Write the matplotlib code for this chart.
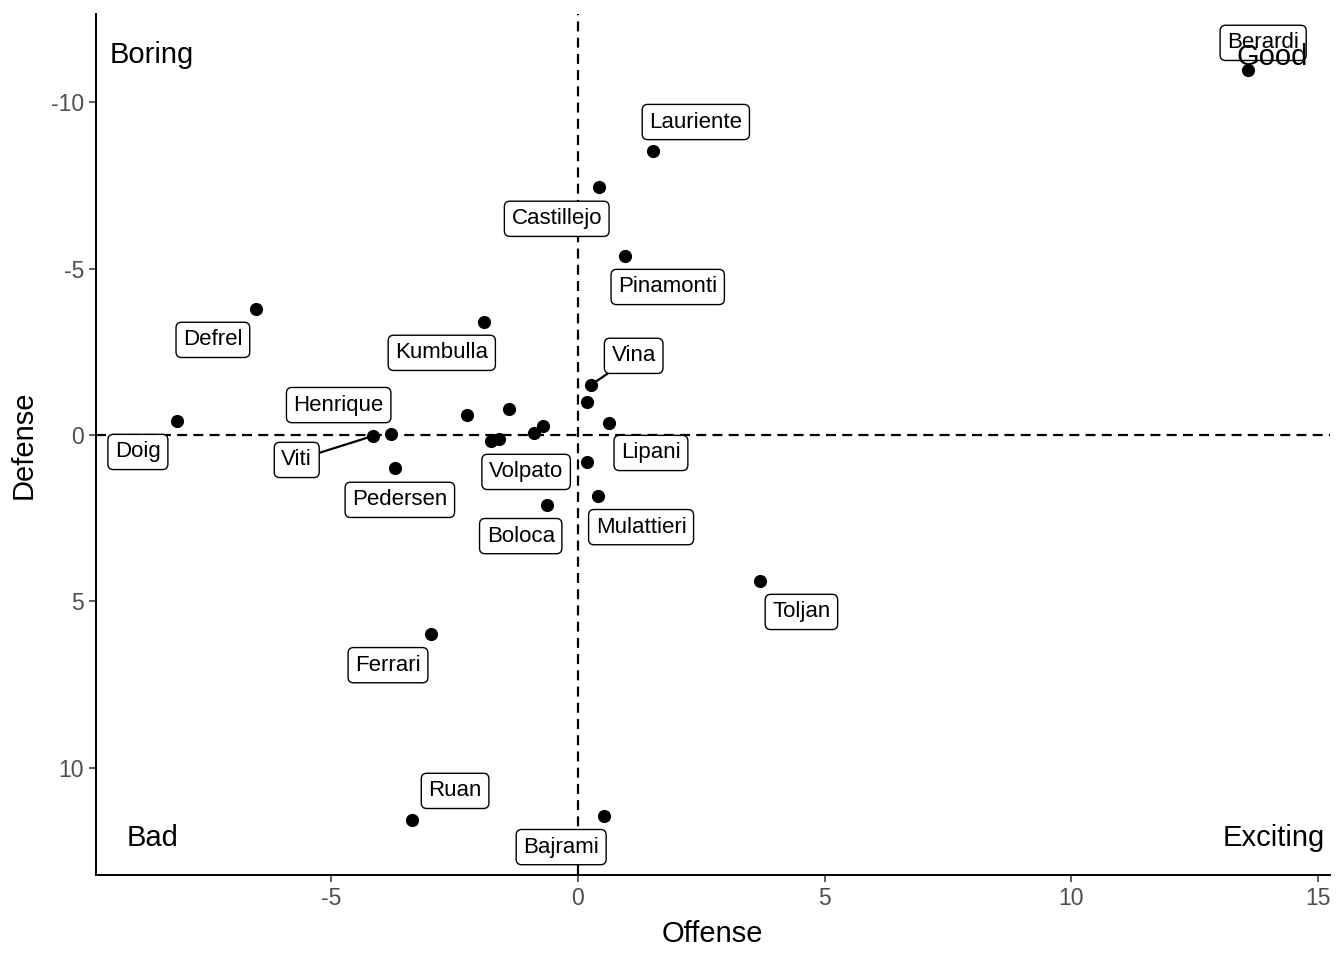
import matplotlib
matplotlib.use('Agg')
import matplotlib.pyplot as plt
from matplotlib import rcParams

rcParams['font.family'] = ['Liberation Sans', 'DejaVu Sans']
rcParams['axes.unicode_minus'] = False

# player values (offense, defense); empty name = unlabelled point
players = ['Berardi', 'Lauriente', 'Castillejo', 'Pinamonti', 'Defrel', 'Kumbulla',
           'Vina', '', 'Lipani', 'Doig', '', '', '', '', '', '',
           'Viti', 'Henrique', 'Pedersen', 'Volpato', 'Mulattieri', 'Boloca',
           'Toljan', 'Ferrari', 'Ruan', 'Bajrami']
offense = [13.58, 1.52, 0.43, 0.95, -6.53, -1.91,
           0.26, 0.18, 0.63, -8.13, -2.25, -1.40, -0.71, -0.89, -1.60, -1.76,
           -4.16, -3.79, -3.71, 0.18, 0.41, -0.63,
           3.69, -2.98, -3.37, 0.53]
defense = [-10.98, -8.54, -7.46, -5.38, -3.79, -3.40,
           -1.50, -0.99, -0.36, -0.42, -0.60, -0.78, -0.27, -0.06, 0.12, 0.18,
           0.03, -0.03, 0.99, 0.81, 1.83, 2.11,
           4.39, 5.98, 11.58, 11.46]

# where the repelled labels ended up (data coords) and which ones get a segment
label_pos = {
    'Berardi': (13.89, -11.79), 'Lauriente': (2.39, -9.41), 'Castillejo': (-0.43, -6.50),
    'Pinamonti': (1.82, -4.45), 'Defrel': (-7.40, -2.86), 'Kumbulla': (-2.76, -2.47),
    'Vina': (1.13, -2.38), 'Henrique': (-4.85, -0.90), 'Doig': (-8.92, 0.51),
    'Viti': (-5.70, 0.75), 'Lipani': (1.48, 0.54), 'Volpato': (-1.05, 1.11),
    'Pedersen': (-3.61, 1.95), 'Boloca': (-1.16, 3.04), 'Mulattieri': (1.28, 2.77),
    'Toljan': (4.53, 5.32), 'Ferrari': (-3.85, 6.92), 'Ruan': (-2.49, 10.70),
    'Bajrami': (-0.34, 12.39),
}
with_segment = {'Viti', 'Vina'}

quadrants = [('Boring', 0.011, 0.952, 'left'), ('Good', 0.982, 0.950, 'right'),
             ('Bad', 0.025, 0.043, 'left'), ('Exciting', 0.996, 0.043, 'right')]

fig = plt.figure(figsize=(13.44, 9.6), dpi=100)
ax = fig.add_axes([0.0714, 0.0885, 0.918, 0.897])

ax.axhline(0, color='black', linestyle=(0, (4.5, 2.8)), linewidth=1.6, zorder=1)
ax.axvline(0, color='black', linestyle=(0, (4.5, 2.8)), linewidth=1.6, zorder=1)
ax.scatter(offense, defense, s=90, color='black', zorder=3, linewidths=0)

box = dict(boxstyle='round,pad=0.32,rounding_size=0.25', fc='white', ec='black', lw=1.0)
for name, x, y in zip(players, offense, defense):
    if not name:
        continue
    lx, ly = label_pos[name]
    arrow = dict(arrowstyle='-', color='black', lw=1.6, shrinkA=0, shrinkB=0) if name in with_segment else None
    ax.annotate(name, xy=(x, y), xytext=(lx, ly), textcoords='data',
                ha='center', va='center', fontsize=16, bbox=box,
                arrowprops=arrow, zorder=4)

for txt, qx, qy, ha in quadrants:
    ax.text(qx, qy, txt, transform=ax.transAxes, ha=ha, va='center',
            fontsize=21, zorder=5)

ax.set_xlim(-9.77, 15.24)
ax.set_ylim(13.23, -12.66)
ax.set_xticks([-5, 0, 5, 10, 15])
ax.set_yticks([-10, -5, 0, 5, 10])
ax.set_xlabel('Offense', fontsize=21, labelpad=7)
ax.set_ylabel('Defense', fontsize=21, labelpad=10)
ax.tick_params(axis='both', labelsize=16.5, labelcolor='#4D4D4D', color='#333333',
               length=5, width=1.1)
for side in ['top', 'right']:
    ax.spines[side].set_visible(False)
for side in ['left', 'bottom']:
    ax.spines[side].set_linewidth(1.4)

plt.savefig('out.png', dpi=100)
